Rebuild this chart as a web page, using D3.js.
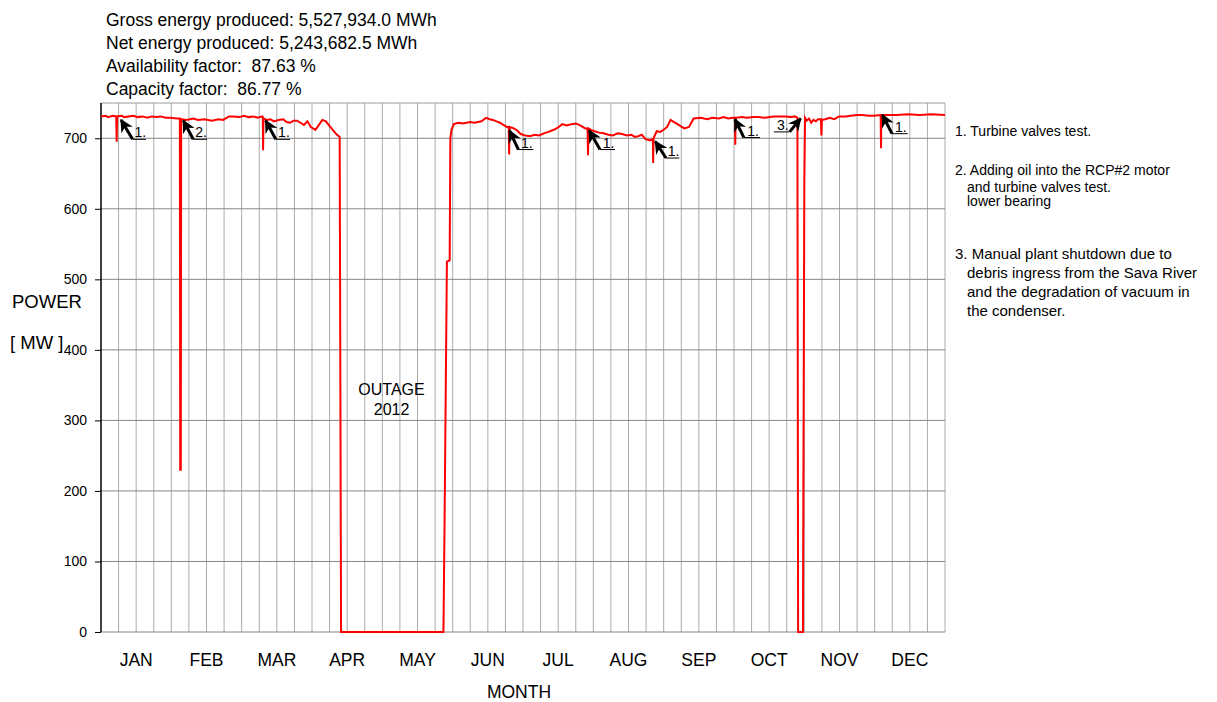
<!DOCTYPE html>
<html lang="en">
<head>
<meta charset="UTF-8">
<title>Power 2012</title>
<style>
    body { margin: 0; background: #fff; }
    text { font-family: "Liberation Sans", Arial, sans-serif; fill: #000; white-space: pre; }
</style>
</head>
<body>
<div id="chart"></div>
<script src="https://d3js.org/d3.v7.min.js"></script>
<script>

    var width = 1217,
        height = 702;

    // header lines
    var summary = [
        "Gross energy produced: 5,527,934.0 MWh",
        "Net energy produced: 5,243,682.5 MWh",
        "Availability factor:  87.63 %",
        "Capacity factor:  86.77 %"
    ];

    var months = ["JAN", "FEB", "MAR", "APR", "MAY", "JUN", "JUL", "AUG", "SEP", "OCT", "NOV", "DEC"];
    var yTicks = [0, 100, 200, 300, 400, 500, 600, 700];

    // day of year (0..366) and power in MW
    var days = [
        0, 2, 3, 5, 6.6, 6.8, 7.0, 9, 10, 12, 14, 16, 18, 20, 22, 24, 26, 28, 30, 33,
        34.2, 34.35, 34.6, 34.75, 37, 40, 42, 45, 48, 51, 53, 55.5, 57, 60, 62, 64, 66, 68, 70,
        70.15, 70.3, 70.45, 72, 73.5, 75, 77, 79, 80.5, 82, 83.5, 85, 86.5, 88, 89.5, 91, 93, 94.5, 96, 97.5, 99, 100.5, 102, 103.5,
        104.1, 148.5, 149, 150, 151.2, 151.5, 152, 153, 155, 157, 160, 162, 165, 167, 168.5, 170, 171.5, 173, 174.5, 176,
        176.8, 177, 177.2, 179, 180.5, 182, 184, 186, 188, 190, 192, 194, 195.5, 197, 198.5, 200, 202, 204, 206, 208, 210,
        211, 211.2, 211.4, 212.5, 214, 216, 218, 220, 222, 224, 226, 228, 230, 231.5, 233, 234.5, 236, 238,
        239.3, 239.45, 239.6, 241, 242.5, 244, 245.5, 247, 248.5, 250, 251.5, 253, 255, 257, 260, 263, 265, 268, 270, 272, 274,
        274.9, 275.05, 275.2, 278, 280, 283, 285, 288, 290, 292, 294, 297, 299, 301, 302,
        302.3, 304.4, 305, 305.3, 306, 307, 308, 309, 310, 311, 312.2, 312.4, 312.6, 314, 316, 318, 320,
        323, 325, 328, 330, 333, 335, 338.1, 338.25, 338.4, 342, 345, 350, 355, 360, 366
    ];
    var power = [
        731, 732, 730, 732, 731, 695, 731, 732, 730, 731, 732, 730, 731, 729, 731, 730, 731, 729, 729, 728,
        728, 230, 230, 727, 726, 728, 726, 727, 725, 727, 726, 731, 731, 730, 732, 730, 731, 729, 731,
        730, 683, 728, 726, 727, 724, 726, 727, 723, 722, 725, 725, 722, 719, 724, 716, 712, 719, 726, 724, 718, 712, 706, 702,
        0, 0, 160, 525, 527, 700, 712, 720, 722, 721, 723, 722, 724, 729, 727, 726, 724, 722, 719, 716,
        716, 677, 716, 714, 711, 706, 704, 703, 705, 704, 707, 709, 711, 713, 716, 720, 718, 720, 721, 718, 714,
        714, 676, 714, 712, 710, 708, 707, 705, 704, 707, 706, 704, 705, 702, 703, 705, 699, 697,
        699, 665, 700, 710, 709, 712, 716, 726, 723, 720, 717, 714, 716, 728, 729, 727, 729, 728, 730, 728, 729,
        729, 691, 729, 730, 729, 730, 730, 729, 730, 731, 731, 731, 730, 731, 729,
        0, 0, 638, 729, 725, 728, 722, 726, 724, 727, 727, 704, 726, 727, 729, 727, 731,
        731, 732, 733, 733, 732, 732, 733, 686, 733, 733, 733, 734, 733, 734, 733
    ];

    // event arrows: tip day/MW, tail day/MW, end of underline (day), label
    var noteTipDay  = [8.7, 35.7, 71.4, 177.1, 211.7, 240.4, 274.9, 303.4, 338.9];
    var noteTipMW   = [726, 725, 725, 711, 711, 695.5, 727, 728, 733];
    var noteTailDay = [13.7, 40, 75.8, 181, 216.4, 245, 278.8, 298.6, 343];
    var noteTailMW  = [698.5, 698.5, 698.5, 684, 684, 672, 701, 709, 706.5];
    var noteEndDay  = [19.5, 46, 82, 187.5, 222.9, 250.8, 285.8, 291.8, 349.9];
    var noteLabel   = ["1.", "2.", "1.", "1.", "1.", "1.", "1.", "3.", "1."];

    var legendLines = [
        {t: "1. Turbine valves test.", x: 955, y: 136, s: 14},
        {t: "2. Adding oil into the RCP#2 motor", x: 955, y: 175, s: 14},
        {t: "and turbine valves test.", x: 967, y: 192, s: 14},
        {t: "lower bearing", x: 967, y: 206, s: 14},
        {t: "3. Manual plant shutdown due to", x: 955, y: 259, s: 15},
        {t: "debris ingress from the Sava River", x: 967, y: 278, s: 15},
        {t: "and the degradation of vacuum in", x: 967, y: 297, s: 15},
        {t: "the condenser.", x: 967, y: 316, s: 15}
    ];

    var svg = d3.select("#chart").append("svg")
        .attr("width", width)
        .attr("height", height);

    var x = d3.scaleLinear().domain([0, 366]).range([101, 945]);
    var y = d3.scaleLinear().domain([0, 750]).range([632, 103]);

    var defs = svg.append("defs");
    defs.append("marker")
        .attr("id", "head")
        .attr("viewBox", "0 0 10 10")
        .attr("refX", 9).attr("refY", 5)
        .attr("markerWidth", 4.4).attr("markerHeight", 4.4)
        .attr("markerUnits", "strokeWidth")
        .attr("orient", "auto")
        .append("path")
        .attr("d", "M0,0 L10,5 L0,10 L3,5 Z")
        .attr("fill", "#000");

    // vertical grid (4 per month)
    var vLines = d3.range(1, 49).map(function (i) { return i * 366 / 48; });
    svg.append("g")
        .selectAll("line")
        .data(vLines)
        .enter().append("line")
        .attr("x1", function (d) { return x(d); })
        .attr("x2", function (d) { return x(d); })
        .attr("y1", y(750))
        .attr("y2", y(0))
        .attr("stroke", "#ababab")
        .attr("stroke-width", 1);

    // horizontal grid
    svg.append("g")
        .selectAll("line")
        .data(yTicks.concat([750]))
        .enter().append("line")
        .attr("x1", x(0))
        .attr("x2", x(366))
        .attr("y1", function (d) { return y(d); })
        .attr("y2", function (d) { return y(d); })
        .attr("stroke", function (d) { return d === 750 ? "#9a9a9a" : "#858585"; })
        .attr("stroke-width", 1);

    // y axis
    var yAxis = svg.append("g")
        .attr("transform", "translate(" + x(0) + ",0)")
        .call(d3.axisLeft(y).tickValues(yTicks).tickSize(6).tickSizeOuter(0).tickPadding(8));
    yAxis.select(".domain").attr("stroke", "#000").attr("stroke-width", 1.5)
        .attr("d", "M0," + y(750) + "V" + y(0));
    yAxis.selectAll(".tick line").attr("stroke", "#000");
    yAxis.selectAll(".tick text")
        .style("font-family", "Liberation Sans, Arial, sans-serif")
        .style("font-size", "14px")
        .attr("fill", "#000");

    // month labels
    svg.append("g")
        .selectAll("text")
        .data(months)
        .enter().append("text")
        .attr("x", function (d, i) { return x((i + 0.5) * 366 / 12); })
        .attr("y", 666)
        .attr("text-anchor", "middle")
        .style("font-size", "17.5px")
        .text(function (d) { return d; });

    svg.append("text")
        .attr("x", 519).attr("y", 698)
        .attr("text-anchor", "middle")
        .style("font-size", "17.5px")
        .text("MONTH");

    svg.append("text").attr("x", 12).attr("y", 308).style("font-size", "18.5px").text("POWER");
    svg.append("text").attr("x", 10).attr("y", 349).style("font-size", "18.5px").text("[ MW ]");

    // power line
    var line = d3.line()
        .x(function (d, i) { return x(days[i]); })
        .y(function (d) { return y(d); });

    svg.append("path")
        .datum(power)
        .attr("d", line)
        .attr("fill", "none")
        .attr("stroke", "#ff0000")
        .attr("stroke-width", 2)
        .attr("stroke-linejoin", "miter");

    svg.append("text").attr("x", x(126)).attr("y", 395).attr("text-anchor", "middle")
        .style("font-size", "16px").text("OUTAGE");
    svg.append("text").attr("x", x(126)).attr("y", 415).attr("text-anchor", "middle")
        .style("font-size", "16px").text("2012");

    // event arrows
    var notes = svg.append("g");
    noteLabel.forEach(function (lab, i) {
        var tx = x(noteTailDay[i]), ty = y(noteTailMW[i]);
        var ex = x(noteEndDay[i]);
        notes.append("line")
            .attr("x1", tx).attr("y1", ty)
            .attr("x2", x(noteTipDay[i])).attr("y2", y(noteTipMW[i]))
            .attr("stroke", "#000").attr("stroke-width", 3)
            .attr("marker-end", "url(#head)");
        notes.append("line")
            .attr("x1", Math.min(tx, ex)).attr("x2", Math.max(tx, ex))
            .attr("y1", ty).attr("y2", ty)
            .attr("stroke", "#000").attr("stroke-width", 1);
        notes.append("text")
            .attr("x", (Math.min(tx, ex) + Math.max(tx, ex)) / 2 + 1)
            .attr("y", ty - 2)
            .attr("text-anchor", "middle")
            .style("font-size", "14px")
            .text(lab);
    });

    // summary text
    svg.append("g")
        .selectAll("text")
        .data(summary)
        .enter().append("text")
        .attr("x", 106)
        .attr("y", function (d, i) { return 26 + i * 23; })
        .style("font-size", "17.5px")
        .text(function (d) { return d; });

    // right notes
    svg.append("g")
        .selectAll("text")
        .data(legendLines)
        .enter().append("text")
        .attr("x", function (d) { return d.x; })
        .attr("y", function (d) { return d.y; })
        .style("font-size", function (d) { return d.s + "px"; })
        .text(function (d) { return d.t; });

</script>
</body>
</html>
